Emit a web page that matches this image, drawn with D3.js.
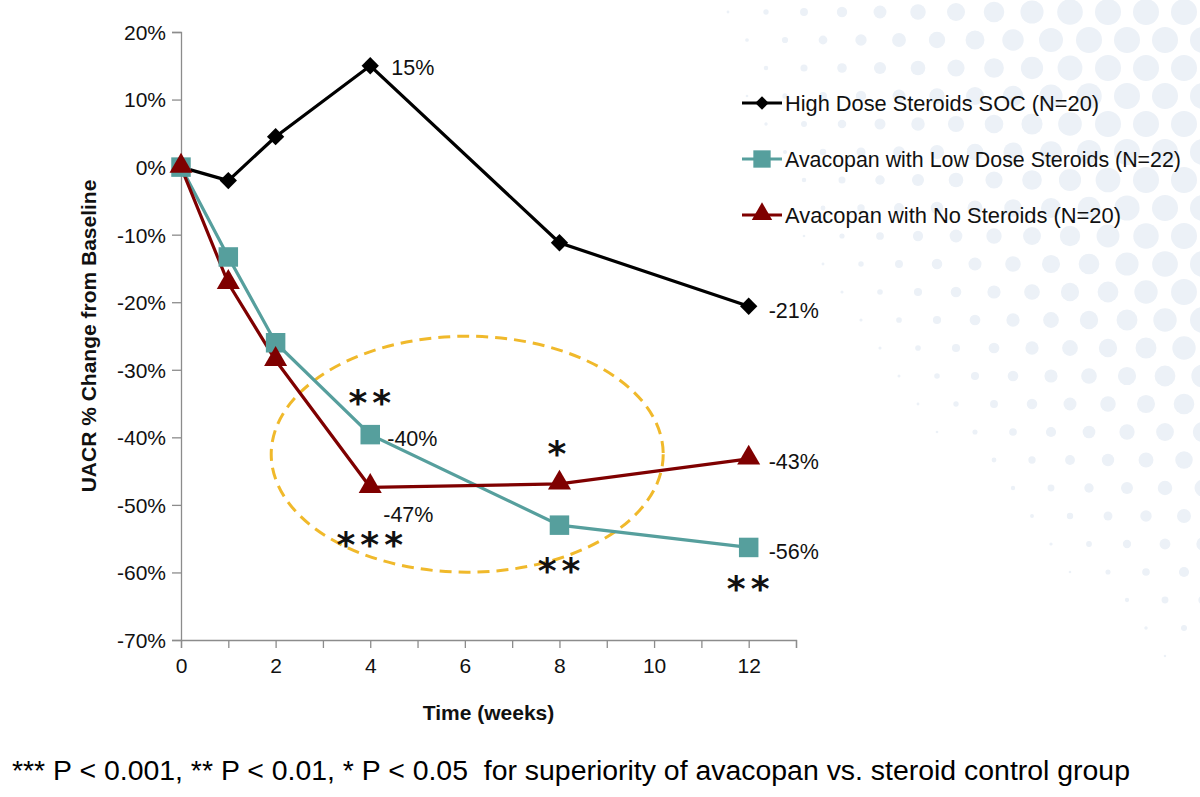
<!DOCTYPE html>
<html>
<head>
<meta charset="utf-8">
<script src="https://cdn.jsdelivr.net/npm/d3@7"></script>
<style>
  html, body { margin: 0; padding: 0; background: #ffffff; }
  svg { display: block; font-family: "Liberation Sans", Arial, sans-serif; }
</style>
</head>
<body>
<svg id="chart" width="1200" height="797"></svg>
<script>
// ---- data ----
const weeks = [0, 1, 2, 4, 8, 12];
const highDoseSOC = [0, -2.0, 4.5, 15, -11.2, -20.6];
const avacopanLowDose = [0, -13.3, -26.0, -39.6, -53.0, -56.3];
const avacopanNoSteroids = [0, -17.2, -28.6, -47.4, -46.9, -43.2];
const seriesNames = ["High Dose Steroids SOC (N=20)", "Avacopan with Low Dose Steroids (N=22)", "Avacopan with No Steroids (N=20)"];
const yTicks = [20, 10, 0, -10, -20, -30, -40, -50, -60, -70];
const xTicks = [0, 1, 2, 3, 4, 5, 6, 7, 8, 9, 10, 11, 12, 13];
const xTickLabels = [0, 2, 4, 6, 8, 10, 12];
// value labels: [series index, week, text]
const valueLabels = [
  [0, 4, "15%"], [0, 12, "-21%"],
  [1, 4, "-40%"], [1, 12, "-56%"],
  [2, 4, "-47%"], [2, 12, "-43%"]
];
// significance marks: [series index, week, stars, above(+1)/below(-1)]
const sigMarks = [
  [1, 4, "**", 1], [2, 4, "***", -1],
  [2, 8, "*", 1], [1, 8, "**", -1],
  [1, 12, "**", -1]
];
const footnote = "*** P < 0.001, ** P < 0.01, * P < 0.05  for superiority of avacopan vs. steroid control group";

const svg = d3.select("#chart");

// ---- decorative background dots ----
const bg = svg.append("g");
const boundary = yy => 720 + 0.15 * yy + 0.0008 * yy * yy;
for (let row = -1; row < 25; row++) {
  for (let col = 0; col < 15; col++) {
    const cx = 690 + col * 38 + (row % 2 ? 19 : 0);
    const cy = row * 28 + 12;
    const xb = boundary(cy);
    if (cx < xb) continue;
    const r = Math.min(13, 1.2 + (cx - xb) / 30);
    bg.append("circle").attr("cx", cx).attr("cy", cy).attr("r", r)
      .attr("fill", "#ecf1f7");
  }
}

// ---- scales ----
const x = d3.scaleLinear().domain([0, 13]).range([181, 796]);
const y = d3.scaleLinear().domain([-70, 20]).range([640, 32]);

// ---- axes ----
const axisColor = "#8c8c8c";
const yAxis = svg.append("g").attr("transform", "translate(181,0)")
  .call(d3.axisLeft(y).tickValues(yTicks).tickSize(9).tickPadding(6).tickFormat(d => d + "%"));
const xAxis = svg.append("g").attr("transform", "translate(0,640)")
  .call(d3.axisBottom(x).tickValues(xTicks).tickSize(8).tickPadding(10)
    .tickFormat(d => xTickLabels.includes(d) ? d : ""));
[yAxis, xAxis].forEach(g => {
  g.select(".domain").attr("stroke", axisColor).attr("stroke-width", 1.3);
  g.selectAll(".tick line").attr("stroke", axisColor).attr("stroke-width", 1.3);
  g.selectAll(".tick text").attr("fill", "#111").style("font-size", "21px")
    .style("font-family", "'Liberation Sans', Arial, sans-serif");
});
yAxis.selectAll(".tick text").attr("dy", "0.35em");

svg.append("text")
  .attr("transform", `translate(96,${(y(20) + y(-70)) / 2}) rotate(-90)`)
  .attr("text-anchor", "middle")
  .style("font-size", "21px").style("font-weight", "bold").attr("fill", "#111")
  .text("UACR % Change from Baseline");

svg.append("text")
  .attr("x", (x(0) + x(13)) / 2).attr("y", 720)
  .attr("text-anchor", "middle")
  .style("font-size", "21px").style("font-weight", "bold").attr("fill", "#111")
  .text("Time (weeks)");

// ---- ellipse highlight ----
svg.append("ellipse")
  .attr("cx", x(6.05)).attr("cy", y(-42.5)).attr("rx", 196).attr("ry", 118)
  .attr("fill", "none").attr("stroke", "#f0b92b").attr("stroke-width", 3)
  .attr("stroke-dasharray", "12,7");

// ---- series ----
const allSeries = [highDoseSOC, avacopanLowDose, avacopanNoSteroids];
const colors = ["#000000", "#569f9d", "#7f0000"];
const symbols = [
  d3.symbol().type(d3.symbolSquare).size(150),  // rotated for diamond
  d3.symbol().type(d3.symbolSquare).size(380),
  d3.symbol().type(d3.symbolTriangle).size(230)
];
const line = d3.line().x(d => x(d[0])).y(d => y(d[1]));

allSeries.forEach((vals, i) => {
  const pts = weeks.map((w, k) => [w, vals[k]]);
  svg.append("path").datum(pts).attr("d", line)
    .attr("fill", "none").attr("stroke", colors[i]).attr("stroke-width", 3.2);
});
allSeries.forEach((vals, i) => {
  const pts = weeks.map((w, k) => [w, vals[k]]);
  svg.append("g").selectAll("path").data(pts).join("path")
    .attr("d", symbols[i])
    .attr("transform", d => `translate(${x(d[0])},${y(d[1]) + (i === 2 ? -1 : 0)})` + (i === 0 ? " rotate(45)" : ""))
    .attr("fill", colors[i]);
});

// ---- value labels ----
const labelOffsets = { "0-4": [21, 2], "0-12": [20, 4], "1-4": [17, 4], "1-12": [20, 4], "2-4": [13, 27], "2-12": [20, 3] };
valueLabels.forEach(([si, w, t]) => {
  const v = allSeries[si][weeks.indexOf(w)];
  const off = labelOffsets[si + "-" + w];
  svg.append("text").attr("x", x(w) + off[0]).attr("y", y(v) + off[1])
    .attr("dy", "0.35em").style("font-size", "21.5px").attr("fill", "#111").text(t);
});

// ---- significance stars ----
sigMarks.forEach(([si, w, s, dir]) => {
  const v = allSeries[si][weeks.indexOf(w)];
  const dyOff = dir > 0 ? (s === "*" ? -18 : -20) : (s === "***" ? 70 : (w === 12 ? 54 : 58));
  svg.append("text").attr("x", x(w) + (s.length > 1 ? 2 : 0)).attr("y", y(v) + dyOff)
    .attr("text-anchor", "middle")
    .style("font-size", "36px").style("letter-spacing", "5px").style("font-weight", "bold")
    .attr("fill", "#111")
    .style("font-family", "'DejaVu Sans', sans-serif")
    .text(s);
});

// ---- legend ----
const legendY = [103, 159, 215];
const legendWidths = [314, 396, 336];
const legendSymbols = [
  d3.symbol().type(d3.symbolSquare).size(90),
  d3.symbol().type(d3.symbolSquare).size(300),
  d3.symbol().type(d3.symbolTriangle).size(180)
];
seriesNames.forEach((name, i) => {
  const g = svg.append("g").attr("transform", `translate(742,${legendY[i]})`);
  g.append("line").attr("x1", 0).attr("x2", 40).attr("y1", 0).attr("y2", 0)
    .attr("stroke", colors[i]).attr("stroke-width", 3.2);
  g.append("path").attr("d", legendSymbols[i]())
    .attr("transform", `translate(20,${i === 2 ? -1 : 0})` + (i === 0 ? " rotate(45)" : ""))
    .attr("fill", colors[i]);
  g.append("text").attr("x", 43).attr("y", 0).attr("dy", "0.35em")
    .style("font-size", "21.5px").attr("fill", "#111")
    .attr("textLength", legendWidths[i]).attr("lengthAdjust", "spacingAndGlyphs")
    .text(name);
});

// ---- footnote ----
svg.append("text").attr("x", 12).attr("y", 780)
  .style("font-size", "27px").style("white-space", "pre").attr("fill", "#000")
  .attr("textLength", 1118).attr("lengthAdjust", "spacingAndGlyphs")
  .text(footnote);
</script>
</body>
</html>
